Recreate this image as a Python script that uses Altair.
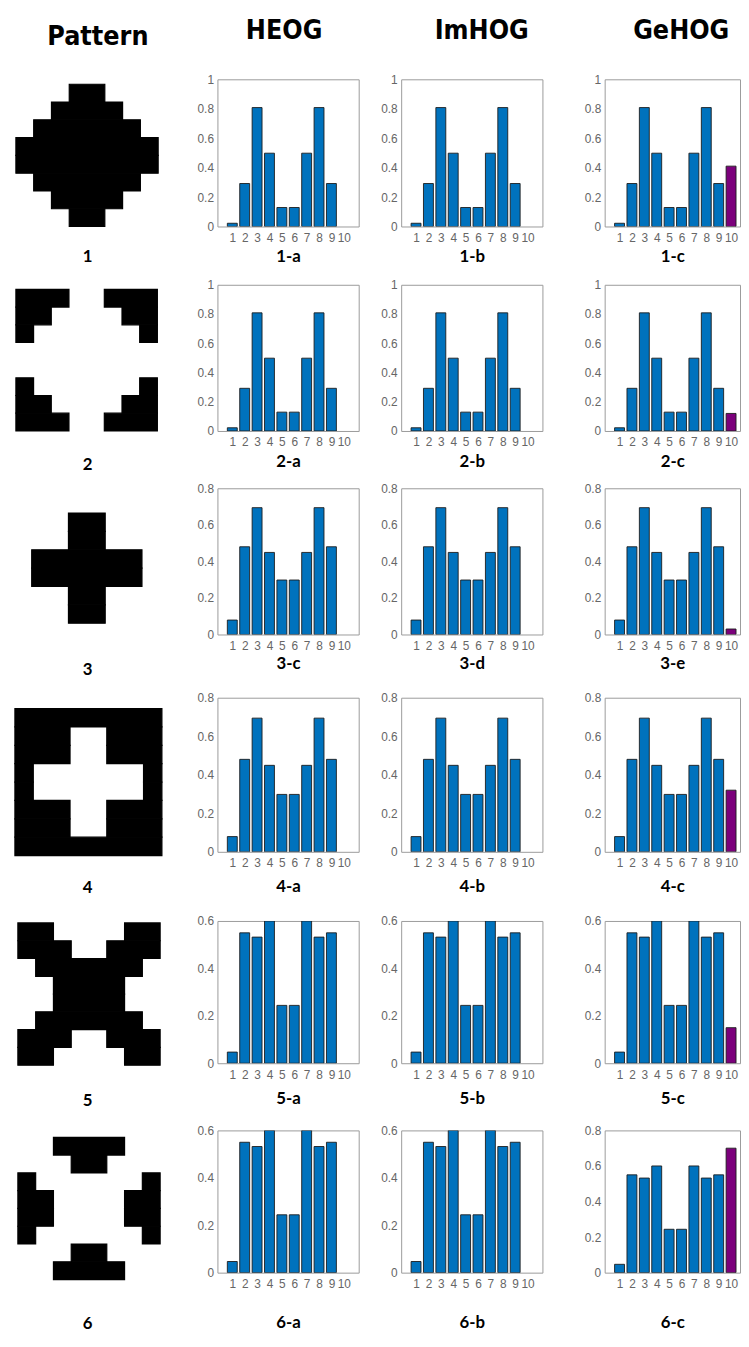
import altair as alt
import pandas as pd

# ---------------- data ----------------
BINS = [1, 2, 3, 4, 5, 6, 7, 8, 9, 10]

HIST_A = [0.022, 0.292, 0.808, 0.498, 0.129, 0.129, 0.498, 0.808, 0.292, 0.0]
HIST_B = [0.079, 0.480, 0.694, 0.449, 0.298, 0.298, 0.449, 0.694, 0.480, 0.0]
HIST_C = [0.047, 0.550, 0.532, 0.600, 0.244, 0.244, 0.600, 0.532, 0.550, 0.0]
GEHOG_BIN10 = [0.41, 0.12, 0.03, 0.32, 0.15, 0.70]

HEOG_ROWS = [HIST_A, HIST_A, HIST_B, HIST_B, HIST_C, HIST_C]
IMHOG_ROWS = [HIST_A, HIST_A, HIST_B, HIST_B, HIST_C, HIST_C]

Y_MAX_HEOG = [1.0, 1.0, 0.8, 0.8, 0.6, 0.6]
Y_MAX_GEHOG = [1.0, 1.0, 0.8, 0.8, 0.6, 0.8]
Y_TICKS = {1.0: [0, 0.2, 0.4, 0.6, 0.8, 1.0],
           0.8: [0, 0.2, 0.4, 0.6, 0.8],
           0.6: [0, 0.2, 0.4, 0.6]}

CAPTIONS_HEOG = ["1-a", "2-a", "3-c", "4-a", "5-a", "6-a"]
CAPTIONS_IMHOG = ["1-b", "2-b", "3-d", "4-b", "5-b", "6-b"]
CAPTIONS_GEHOG = ["1-c", "2-c", "3-e", "4-c", "5-c", "6-c"]
PATTERN_LABELS = ["1", "2", "3", "4", "5", "6"]
COLUMN_TITLES = ["Pattern", "HEOG", "ImHOG", "GeHOG"]

PATTERNS = [
    ["...##...", "..####..", ".######.", "########",
     "########", ".######.", "..####..", "...##..."],
    ["###..###", "##....##", "#......#", "........",
     "........", "#......#", "##....##", "###..###"],
    ["........", "...##...", "...##...", ".######.",
     ".######.", "...##...", "...##...", "........"],
    ["########", "###..###", "###..###", "#......#",
     "#......#", "###..###", "###..###", "########"],
    ["##....##", "###..###", ".######.", "..####..",
     "..####..", ".######.", "###..###", "##....##"],
    ["..####..", "...##...", "#......#", "##....##",
     "##....##", "#......#", "...##...", "..####.."],
]

# ---------------- layout / style ----------------
BLUE = "#0072BD"
PURPLE = "#7B007B"
FRAME = "#9a9a9a"
LABEL = "#666666"
HEAD_FONT = "DejaVu Sans Condensed, DejaVu Sans"

COL_LEFT = 12
PAT_W = 150
SP0_W = 57
SP1_W = 43
SP2_W = 63
BAR_W = 143
GE_W = 137

ROW_TOP = [75, 283, 489, 701, 927, 1139]
ROW_H = [149, 148, 148, 156, 144, 144]
ROW_PITCH = [208, 206, 212, 226, 212, 151]
CAP_PAD = [5, 6, 4, 10, 11, 26]

PAT_X0 = [15, 15, 12.4, 14, 17, 17]
PAT_Y0 = [80, 287.7, 495.4, 712, 929, 1146]
PAT_U = [18, 17.9, 18.6, 18.6, 18, 18]
PAT_CAP_Y = [254, 465, 673, 893, 1109, 1335]

HEAD_DX = [11, -4, 10, 9]
HEAD_OFFSET = 8


def header(text, dx):
    return alt.TitleParams(text=text, dx=dx, offset=HEAD_OFFSET, frame="group",
                           baseline="alphabetic", anchor="middle",
                           font=HEAD_FONT, fontSize=27, fontWeight="bold",
                           color="#000000")


def pattern_runs(rows):
    runs = []
    for r, line in enumerate(rows):
        c = 0
        while c < len(line):
            if line[c] == "#":
                s = c
                while c < len(line) and line[c] == "#":
                    c += 1
                runs.append({"c0": s, "c1": c, "r0": r, "r1": r + 1})
            else:
                c += 1
    return runs


def pattern_panel(i, head=None):
    df = pd.DataFrame(pattern_runs(PATTERNS[i]))
    u = PAT_U[i]
    x0 = -(PAT_X0[i] - COL_LEFT) / u
    x1 = (COL_LEFT + PAT_W - PAT_X0[i]) / u
    top = ROW_TOP[i]
    y0 = -(PAT_Y0[i] - top) / u
    height = (PAT_Y0[i] - top) + 8 * u
    bottom = PAT_Y0[i] + 8 * u
    tpad = PAT_CAP_Y[i] - bottom - 8
    ch = alt.Chart(df).mark_rect(color="#000000", stroke="#000000", strokeWidth=1.2).encode(
        x=alt.X("c0:Q", scale=alt.Scale(domain=[x0, x1], nice=False, zero=False),
                axis=alt.Axis(title=PATTERN_LABELS[i], labels=False, ticks=False,
                              domain=False, grid=False, titlePadding=tpad)),
        x2="c1:Q",
        y=alt.Y("r0:Q", scale=alt.Scale(domain=[y0, 8], nice=False, zero=False, reverse=True),
                axis=None),
        y2="r1:Q",
    ).properties(width=PAT_W, height=height,
                 view=alt.ViewBackground(stroke="transparent"))
    if head is not None:
        ch = ch.properties(title=header(COLUMN_TITLES[0], HEAD_DX[0]))
    return ch


def spacer(w, h):
    return alt.Chart(pd.DataFrame({"s": [0]})).mark_point(opacity=0).encode(
        x=alt.X("s:Q", axis=None), y=alt.Y("s:Q", axis=None)
    ).properties(width=w, height=h, view=alt.ViewBackground(stroke="transparent"))


def bar_panel(values, ymax, caption, i, width, xmax, head=None, dx=0):
    df = pd.DataFrame({"bin": BINS, "value": values,
                       "part": ["hist"] * 9 + ["extra"]})
    ch = alt.Chart(df).transform_filter("datum.value > 0").transform_calculate(
        x0="datum.bin - 0.4", x1="datum.bin + 0.4"
    ).mark_bar(stroke="#1c1c1c", strokeWidth=0.9, clip=True).encode(
        x=alt.X("x0:Q", scale=alt.Scale(domain=[-0.2, xmax], nice=False, zero=False),
                axis=alt.Axis(values=BINS, title=caption, titlePadding=CAP_PAD[i],
                              labelPadding=6, labelOverlap=False, labelFlush=False)),
        x2="x1:Q",
        y=alt.Y("value:Q", scale=alt.Scale(domain=[0, ymax], nice=False, zero=True),
                axis=alt.Axis(values=Y_TICKS[ymax], format="~g", title=None,
                              labelPadding=4, labelOverlap=False, labelFlush=False)),
        y2=alt.datum(0),
        color=alt.Color("part:N", scale=alt.Scale(domain=["hist", "extra"],
                                                  range=[BLUE, PURPLE]), legend=None),
    ).properties(width=width, height=ROW_H[i],
                 view=alt.ViewBackground(stroke=FRAME, strokeWidth=1))
    if head is not None:
        ch = ch.properties(title=header(head, dx))
    return ch


panels = []
for i in range(6):
    first = i == 0
    ge_vals = HEOG_ROWS[i][:9] + [GEHOG_BIN10[i]]
    panels.append(pattern_panel(i, head=True if first else None))
    panels.append(spacer(SP0_W, ROW_PITCH[i]))
    panels.append(bar_panel(HEOG_ROWS[i], Y_MAX_HEOG[i], CAPTIONS_HEOG[i], i, BAR_W, 11.2,
                            head=COLUMN_TITLES[1] if first else None, dx=HEAD_DX[1]))
    panels.append(spacer(SP1_W, 1))
    panels.append(bar_panel(IMHOG_ROWS[i], Y_MAX_HEOG[i], CAPTIONS_IMHOG[i], i, BAR_W, 11.2,
                            head=COLUMN_TITLES[2] if first else None, dx=HEAD_DX[2]))
    panels.append(spacer(SP2_W, 1))
    panels.append(bar_panel(ge_vals, Y_MAX_GEHOG[i], CAPTIONS_GEHOG[i], i, GE_W,
                            -0.2 + GE_W / (BAR_W / 11.4),
                            head=COLUMN_TITLES[3] if first else None, dx=HEAD_DX[3]))

chart = alt.concat(*panels, columns=7, spacing=0, bounds="flush").properties(
    padding={"left": 4, "top": 0, "right": 0, "bottom": 0}
).configure_axis(
    labelFont="Liberation Sans", labelFontSize=12, labelColor=LABEL,
    titleFont="Lato", titleFontSize=17, titleFontWeight="bold", titleColor="#000000",
    grid=False, domain=False, ticks=False, tickSize=0
).configure_view(stroke=FRAME)

chart.save("out.html", embed_options={"renderer": "svg", "actions": False})
